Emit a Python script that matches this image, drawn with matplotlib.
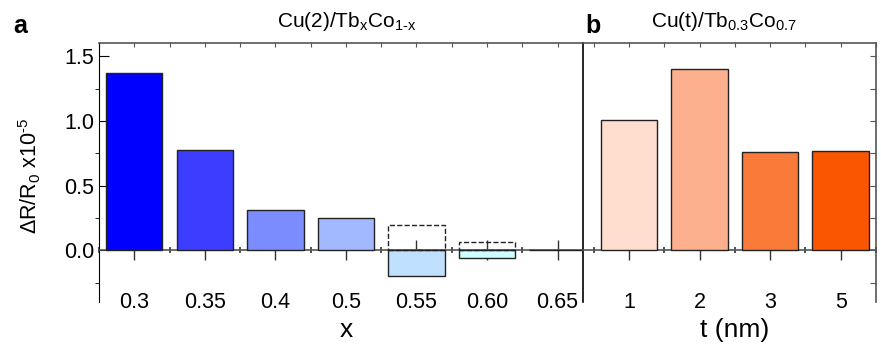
import matplotlib
matplotlib.use('Agg')
import matplotlib.pyplot as plt
from matplotlib.ticker import MultipleLocator

plt.rcParams['font.family'] = 'Liberation Sans'
plt.rcParams['mathtext.fontset'] = 'custom'
plt.rcParams['mathtext.rm'] = 'Liberation Sans'
plt.rcParams['mathtext.it'] = 'Liberation Sans'
plt.rcParams['mathtext.default'] = 'regular'

# panel a: Cu(2)/TbxCo1-x
x_labels = ['0.3', '0.35', '0.4', '0.5', '0.55', '0.60', '0.65']
x_values = [1.37, 0.773, 0.315, 0.246, -0.199, -0.062, 0.0]
x_colors = ['#0000ff', '#3d3dff', '#7b8cff', '#a2b9ff', '#bfe0ff', '#ccffff', '#ffffff']
dashed_idx = [4, 5]
dashed_values = [0.199, 0.067]

# panel b: Cu(t)/Tb0.3Co0.7
t_labels = ['1', '2', '3', '5']
t_values = [1.008, 1.398, 0.757, 0.77]
t_colors = ['#ffdecf', '#fdb08e', '#fa7a3a', '#fa5500']

gray = '#555555'

fig = plt.figure(figsize=(8.81, 3.54), dpi=100)
ax1 = fig.add_axes([99/881, 1-302/354, 484/881, 258.7/354])
ax2 = fig.add_axes([583/881, 1-302/354, 293/881, 258.7/354])


def style(ax):
    ax.set_ylim(-0.4, 1.6)
    ax.spines['bottom'].set_position(('data', 0))
    ax.spines['bottom'].set_color(gray)
    ax.spines['bottom'].set_linewidth(1.2)
    ax.spines['top'].set_color(gray)
    ax.spines['top'].set_linewidth(1.2)
    ax.xaxis.set_minor_locator(MultipleLocator(0.5))
    ax.tick_params(axis='x', which='major', direction='inout', length=14, width=1,
                   color='#333333', labelsize=15.5, pad=23, top=False)
    ax.tick_params(axis='x', which='minor', direction='inout', length=4, width=1.2,
                   color='#333333', top=False)
    ax.set_zorder(1)


style(ax1)
style(ax2)

ax1.bar(range(len(x_values)), x_values, width=0.8, color=x_colors,
        edgecolor='#222222', linewidth=1, zorder=3)
ax1.bar(dashed_idx, dashed_values, width=0.8, fill=False, edgecolor='#222222',
        linestyle='--', linewidth=1, zorder=3)
ax1.set_xlim(-0.5, 6.36)
ax1.set_xticks(range(len(x_labels)))
ax1.set_xticklabels(x_labels)
ax1.spines['right'].set_visible(False)
ax1.yaxis.set_major_locator(MultipleLocator(0.5))
ax1.yaxis.set_minor_locator(MultipleLocator(0.25))
ax1.tick_params(axis='y', which='major', direction='in', length=7, labelsize=15.5)
ax1.tick_params(axis='y', which='minor', direction='out', length=3)

# top ticks of the frame
for ax, n in [(ax1, 7), (ax2, 4)]:
    sec = ax.secondary_xaxis('top')
    sec.set_xticks([i * 0.5 for i in range(-1, 2 * n + 1)])
    sec.tick_params(direction='in', length=3, color=gray, labeltop=False)
    sec.spines['top'].set_visible(False)

ax2.bar(range(len(t_values)), t_values, width=0.8, color=t_colors,
        edgecolor='#222222', linewidth=1, zorder=3)
ax2.set_xlim(-0.652, 3.5)
ax2.set_xticks(range(len(t_labels)))
ax2.set_xticklabels(t_labels)
ax2.spines['left'].set_color('black')
ax2.spines['left'].set_linewidth(1.2)
ax2.spines['right'].set_color(gray)
ax2.spines['right'].set_linewidth(1.2)
ax2.yaxis.set_minor_locator(MultipleLocator(0.25))
ax2.yaxis.set_major_locator(MultipleLocator(0.25))
ax2.tick_params(axis='y', which='both', left=False, labelleft=False,
                right=True, direction='in', length=4, color=gray)

fig.text(347/881, 1-27/354, r'Cu(2)/Tb$_{x}$Co$_{1\text{-}x}$', ha='center', va='baseline', fontsize=15)
fig.text(724/881, 1-27/354, r'Cu(t)/Tb$_{0.3}$Co$_{0.7}$', ha='center', va='baseline', fontsize=15)
fig.text(20/881, 1-33/354, 'a', ha='center', va='baseline', fontsize=18, fontweight='bold')
fig.text(593/881, 1-33/354, 'b', ha='center', va='baseline', fontsize=18, fontweight='bold')
fig.text(30/881, 1-176/354, r'$\Delta$R/R$_0$ x10$^{\text{-}5}$', rotation=90,
         ha='center', va='center', fontsize=15.5)
fig.text(346/881, 1-330/354, 'x', ha='center', va='center', fontsize=19)
fig.text(735/881, 1-330/354, 't (nm)', ha='center', va='center', fontsize=19)

fig.savefig('out.png', dpi=100)
